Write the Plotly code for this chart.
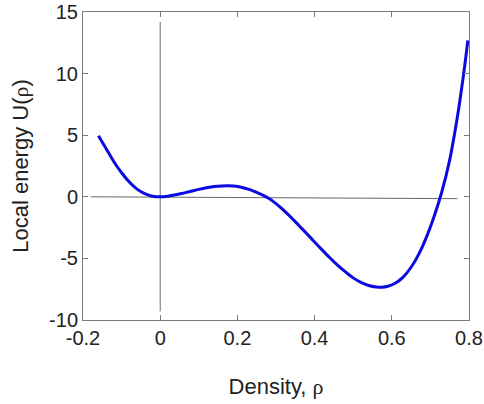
import plotly.graph_objects as go

rho = [-0.16, -0.14, -0.12, -0.10, -0.08, -0.06, -0.04, -0.02, 0.0, 0.02, 0.04, 0.06,
       0.08, 0.10, 0.12, 0.14, 0.16, 0.175, 0.19, 0.21, 0.23, 0.25, 0.27, 0.28, 0.30,
       0.32, 0.34, 0.36, 0.38, 0.40, 0.42, 0.44, 0.46, 0.48, 0.50, 0.52, 0.54, 0.56,
       0.575, 0.59, 0.61, 0.63, 0.65, 0.67, 0.69, 0.71, 0.73, 0.75, 0.77, 0.78, 0.79, 0.797]
energy = [4.95, 3.9, 2.85, 1.95, 1.2, 0.62, 0.25, 0.05, 0.0, 0.05, 0.16, 0.3,
          0.45, 0.6, 0.73, 0.83, 0.88, 0.89, 0.87, 0.78, 0.6, 0.35, 0.07, -0.1, -0.55,
          -1.1, -1.7, -2.35, -3.0, -3.67, -4.33, -4.97, -5.57, -6.1, -6.58, -6.95, -7.2, -7.32,
          -7.34, -7.26, -7.0, -6.5, -5.72, -4.65, -3.25, -1.55, 0.45, 3.0, 6.5, 8.6, 10.9, 12.7]

hline_x = [-0.18, 0.77]
hline_y = [0.0, -0.15]
vline_x = [0.0, 0.0]
vline_y = [-9.3, 14.2]

x_ticks = [-0.2, 0, 0.2, 0.4, 0.6, 0.8]
x_labels = ["-0.2", "0", "0.2", "0.4", "0.6", "0.8"]
y_ticks = [-10, -5, 0, 5, 10, 15]
y_labels = ["-10", "-5", "0", "5", "10", "15"]

fig = go.Figure()
fig.add_trace(go.Scatter(x=hline_x, y=hline_y, mode="lines",
                         line=dict(color="#6a6a6a", width=1), hoverinfo="skip"))
fig.add_trace(go.Scatter(x=vline_x, y=vline_y, mode="lines",
                         line=dict(color="#6a6a6a", width=1), hoverinfo="skip"))
fig.add_trace(go.Scatter(x=rho, y=energy, mode="lines", line_shape="spline",
                         line=dict(color="#0a0ae0", width=3)))

RHO = '<span style="font-family:Liberation Serif">ρ</span>'
axis_common = dict(showgrid=False, zeroline=False, showline=True, linecolor="#7a7a7a",
                   linewidth=1, mirror="ticks", ticks="inside", ticklen=5, automargin=False,
                   ticklabeloverflow="allow",
                   tickcolor="#7a7a7a", tickfont=dict(size=20, color="#222"))
fig.update_xaxes(range=[-0.2, 0.8], tickvals=x_ticks, ticktext=x_labels,
                 title=dict(text="Density, " + RHO, font=dict(size=22, color="#222"), standoff=30),
                 **axis_common)
fig.update_yaxes(range=[-10, 15], tickvals=y_ticks, ticktext=y_labels,
                 title=dict(text="Local energy U(" + RHO + ")", font=dict(size=22, color="#222"), standoff=14),
                 **axis_common)
fig.update_layout(width=484, height=404, showlegend=False,
                  margin=dict(l=83, r=15, t=12, b=84),
                  paper_bgcolor="white", plot_bgcolor="white",
                  font=dict(family="Liberation Sans, Arial, sans-serif"))
fig.write_html("out.html", config={"displayModeBar": False},
               post_script="document.body.style.margin='0';")
